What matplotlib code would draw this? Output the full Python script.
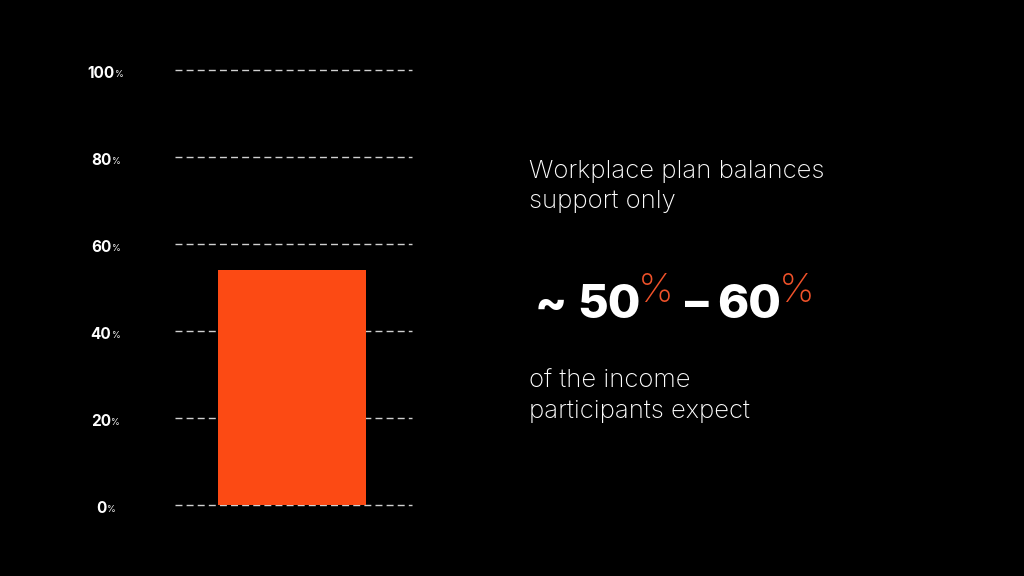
import matplotlib.pyplot as plt
from matplotlib.transforms import blended_transform_factory

# Data
categories = ['Income supported']
values = [54]
tick_values = [0, 20, 40, 60, 80, 100]
tick_labels = ['0', '20', '40', '60', '80', '100']

bg = '#000000'
bar_color = '#FC4A14'
pct_color = '#F0522A'

fig = plt.figure(figsize=(10.24, 5.76), dpi=100, facecolor=bg)
ax = fig.add_axes([175 / 1024, 1 - 505 / 576, 237 / 1024, 435 / 576])
ax.set_facecolor(bg)

# dashed grid lines
for v in tick_values:
    ax.axhline(v, color='#d0d0d0', lw=1.0, dashes=(5, 3), zorder=1, clip_on=False)

ax.bar([0], values, width=0.624, color=bar_color, zorder=2)
ax.set_xlim(-0.494, 0.506)
ax.set_ylim(0, 100)
ax.axis('off')

# y tick labels with small % sign
trans = blended_transform_factory(fig.transFigure, ax.transData)
for v, lab in zip(tick_values, tick_labels):
    t = ax.text(101 / 1024, v - 0.7, lab, transform=trans, ha='center', va='center',
                color='white', fontsize=11, fontweight='bold', family='Inter')
    ax.annotate('%', xy=(1, 0.22), xycoords=t, xytext=(0.3, 0), textcoords='offset points',
                ha='left', va='baseline', color='white', fontsize=6.5, family='Inter')

# right-hand text
txt = dict(color='white', fontsize=18.5, family='Inter', fontweight='light', va='baseline')
fig.text(529 / 1024, 1 - 178 / 576, 'Workplace plan balances', **txt)
fig.text(529 / 1024, 1 - 208 / 576, 'support only', **txt)

big = dict(color='white', fontsize=34, fontweight='heavy', family='Inter', va='baseline')
pct = dict(color=pct_color, fontsize=29, fontweight='light', family='Inter', va='baseline')
y_big = 1 - 318 / 576
fig.text(535 / 1024, y_big, '~', **big)
fig.text(577 / 1024, y_big, '50', **big)
fig.text(638 / 1024, 1 - 302 / 576, '%', **pct)
fig.text(685 / 1024, y_big, '–', **big)
fig.text(717 / 1024, y_big, '60', **big)
fig.text(779 / 1024, 1 - 302 / 576, '%', **pct)

fig.text(529 / 1024, 1 - 388 / 576, 'of the income', **txt)
fig.text(529 / 1024, 1 - 418 / 576, 'participants expect', **txt)

fig.savefig('out.png', dpi=100, facecolor=bg)
